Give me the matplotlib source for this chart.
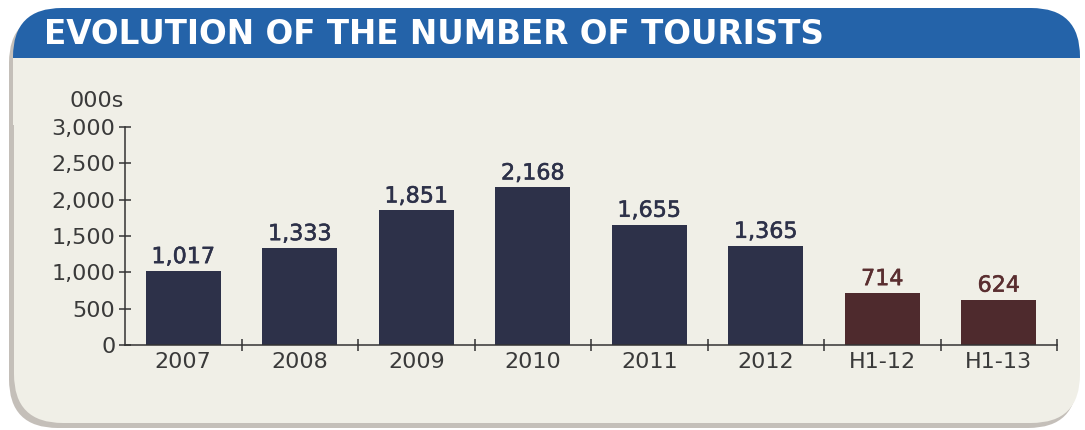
import matplotlib.pyplot as plt
import matplotlib.patheffects as pe
from matplotlib.patches import FancyBboxPatch, Rectangle

categories = ['2007', '2008', '2009', '2010', '2011', '2012', 'H1-12', 'H1-13']
tourists = [1017, 1333, 1851, 2168, 1655, 1365, 714, 624]
value_labels = ['1,017', '1,333', '1,851', '2,168', '1,655', '1,365', '714', '624']
y_ticks = [0, 500, 1000, 1500, 2000, 2500, 3000]
y_tick_labels = ['0', '500', '1,000', '1,500', '2,000', '2,500', '3,000']

navy = '#2d3149'
maroon = '#4e2a2d'
panel = '#f0efe7'
blue = '#2463a9'

plt.rcParams['font.family'] = ['DejaVu Sans']

W, H = 1085, 430
fig = plt.figure(figsize=(W / 100, H / 100), dpi=100)
fig.patch.set_facecolor('white')


def fx(px):
    return px / W


def fy(py):
    return 1 - py / H


# shadow + panel
shadow = FancyBboxPatch((fx(9), fy(428)), fx(1068), fy(14) - fy(428),
                        boxstyle='round,pad=0,rounding_size=0.045',
                        transform=fig.transFigure, facecolor='#c4bfb9',
                        edgecolor='none', mutation_aspect=W / H, zorder=0)
fig.patches.append(shadow)
box = FancyBboxPatch((fx(14), fy(423)), fx(1066), fy(9) - fy(423),
                     boxstyle='round,pad=0,rounding_size=0.045',
                     transform=fig.transFigure, facecolor=panel,
                     edgecolor='none', mutation_aspect=W / H, zorder=1)
fig.patches.append(box)
header = FancyBboxPatch((fx(13), fy(120)), fx(1067), fy(8) - fy(120),
                        boxstyle='round,pad=0,rounding_size=0.045',
                        transform=fig.transFigure, facecolor=blue,
                        edgecolor='none', mutation_aspect=W / H, zorder=2)
fig.patches.append(header)
fig.patches.append(Rectangle((fx(13), fy(125)), fx(1067), fy(58) - fy(125),
                             transform=fig.transFigure, facecolor=panel,
                             edgecolor='none', zorder=3))

fig.text(fx(44), fy(34), 'EVOLUTION OF THE NUMBER OF TOURISTS', color='white',
         fontsize=23.5, fontweight='bold', va='center', ha='left', zorder=5)

ax = fig.add_axes([fx(125), fy(345), fx(1057) - fx(125), fy(127) - fy(345)])
ax.set_facecolor('none')
ax.set_zorder(5)

colors = [navy] * 6 + [maroon] * 2
label_colors = [navy] * 6 + ['#5a2e30'] * 2
x = list(range(len(categories)))
bars = ax.bar(x, tourists, width=0.64, color=colors)
for xi, v, lab, c in zip(x, tourists, value_labels, label_colors):
    ax.text(xi, v + 55, lab, ha='center', va='bottom', fontsize=16, color=c,
            path_effects=[pe.withStroke(linewidth=0.4, foreground=c)])

ax.set_xlim(-0.5, len(categories) - 0.5)
ax.set_ylim(0, 3000)
ax.set_yticks(y_ticks)
ax.set_yticklabels(y_tick_labels)
ax.set_xticks([i - 0.5 for i in range(1, len(categories) + 1)])
ax.set_xticklabels([])
ax.set_xticks(x, minor=True)
ax.set_xticklabels(categories, minor=True)
ax.tick_params(axis='x', which='minor', length=0, pad=5, labelsize=16, labelcolor='#3a3a3a')
ax.tick_params(axis='x', which='major', direction='inout', length=8, width=1.1, color='#333333')
ax.tick_params(axis='y', direction='inout', length=8, width=1.1, color='#333333',
               labelsize=16, labelcolor='#3a3a3a', pad=3)
for s in ['top', 'right']:
    ax.spines[s].set_visible(False)
for s in ['left', 'bottom']:
    ax.spines[s].set_color('#333333')
    ax.spines[s].set_linewidth(1.1)

fig.text(fx(124), fy(101), '000s', ha='right', va='center', fontsize=16, color='#3a3a3a')

fig.savefig('out.png', dpi=100, facecolor=fig.get_facecolor())
